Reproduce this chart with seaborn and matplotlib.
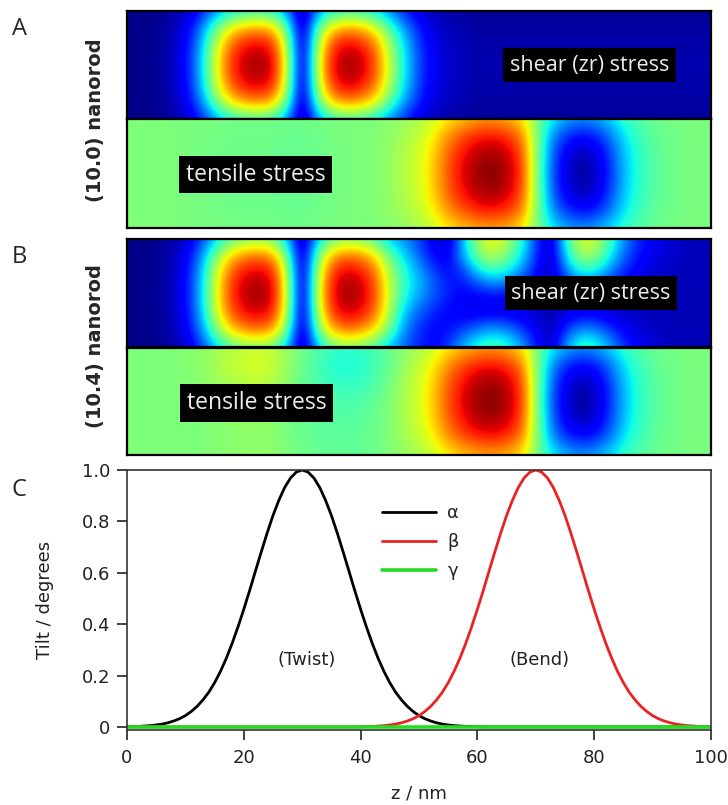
import numpy as np
import pandas as pd
import matplotlib
matplotlib.use("Agg")
import matplotlib.pyplot as plt
import seaborn as sns

# ---------------- data ----------------
# stress maps: columns at z = 0, 2.5, ..., 100 nm ; rows from top edge to bottom edge
# (jet colour scale, 0 = dark blue ... 1 = dark red)

# shear (zr) stress from twisting: centre-row profile and vertical envelope
shear_mid = [0.01, 0.01, 0.02, 0.05, 0.12, 0.30, 0.60, 0.84, 0.95, 0.98, 0.93,
             0.58, 0.00, 0.58, 0.90, 0.98, 0.95, 0.83, 0.58, 0.36, 0.19, 0.10,
             0.07, 0.05, 0.04, 0.04, 0.04, 0.04, 0.04, 0.04, 0.04, 0.04, 0.04,
             0.04, 0.04, 0.04, 0.04, 0.04, 0.04, 0.04, 0.04]
shear_a_rows = [0.40, 0.78, 0.95, 1.00, 0.96, 0.80, 0.42]
shear_b_rows = [0.50, 0.82, 0.96, 1.00, 0.96, 0.82, 0.50]
shear_bg = 0.01

# panel B shear map, right part (z = 47.5 ... 100 nm, 22 columns), read directly
shear_b_right = [
    [0.26, 0.18, 0.10, 0.05, 0.32, 0.55, 0.66, 0.57, 0.40, 0.18, 0.04,
     0.40, 0.62, 0.60, 0.44, 0.27, 0.16, 0.11, 0.08, 0.06, 0.05, 0.05],
    [0.34, 0.22, 0.12, 0.10, 0.30, 0.50, 0.58, 0.50, 0.36, 0.16, 0.04,
     0.34, 0.55, 0.53, 0.38, 0.22, 0.14, 0.09, 0.07, 0.06, 0.05, 0.05],
    [0.40, 0.30, 0.20, 0.13, 0.16, 0.30, 0.38, 0.34, 0.24, 0.12, 0.04,
     0.22, 0.35, 0.34, 0.24, 0.15, 0.10, 0.07, 0.06, 0.05, 0.05, 0.05],
    [0.40, 0.30, 0.22, 0.16, 0.12, 0.13, 0.15, 0.14, 0.11, 0.08, 0.04,
     0.11, 0.15, 0.14, 0.11, 0.08, 0.06, 0.05, 0.05, 0.05, 0.05, 0.05],
    [0.32, 0.22, 0.16, 0.12, 0.09, 0.07, 0.07, 0.07, 0.07, 0.06, 0.04,
     0.06, 0.07, 0.07, 0.06, 0.05, 0.05, 0.05, 0.05, 0.05, 0.05, 0.05],
    [0.26, 0.17, 0.12, 0.13, 0.18, 0.24, 0.28, 0.25, 0.18, 0.10, 0.04,
     0.17, 0.26, 0.25, 0.18, 0.11, 0.08, 0.06, 0.05, 0.05, 0.05, 0.05],
    [0.22, 0.15, 0.12, 0.18, 0.32, 0.42, 0.46, 0.42, 0.30, 0.15, 0.04,
     0.28, 0.44, 0.42, 0.30, 0.18, 0.11, 0.08, 0.06, 0.05, 0.05, 0.05],
]

# tensile stress (both rods): centre-row profile and vertical envelope
tensile_mid = [0.50, 0.50, 0.50, 0.50, 0.50, 0.49, 0.49, 0.48, 0.48, 0.48, 0.48,
               0.47, 0.47, 0.48, 0.49, 0.50, 0.50, 0.51, 0.53, 0.57, 0.61, 0.70,
               0.83, 0.92, 0.98, 1.00, 0.96, 0.86, 0.52, 0.22, 0.08, 0.02, 0.05,
               0.16, 0.31, 0.40, 0.45, 0.48, 0.49, 0.50, 0.50]
tensile_rows = [0.46, 0.80, 0.95, 1.00, 0.95, 0.80, 0.46]
tensile_bg = 0.50

# panel B, extra tensile features of the (10.4) rod (yellow near 22 nm, cyan near 38 nm)
tensile_b_extra = [0.0, 0.0, 0.0, 0.0, 0.01, 0.03, 0.06, 0.10, 0.12, 0.13, 0.11,
                   0.06, 0.0, -0.05, -0.10, -0.12, -0.11, -0.08, -0.05, -0.02, 0.0,
                   0.0, 0.0, 0.0, 0.0, 0.0, 0.0, 0.0, 0.0, 0.0, 0.0, 0.0, 0.0,
                   0.0, 0.0, 0.0, 0.0, 0.0, 0.0, 0.0, 0.0]
tensile_b_extra_rows = [0.75, 1.00, 0.75, 0.50, 0.38, 0.30, 0.28]

# panel C: tilt angles along the rod (every 1 nm)
z_nm = list(range(0, 101))
alpha = [0.001, 0.0014, 0.002, 0.0034, 0.005, 0.0076, 0.011, 0.016, 0.023, 0.032,
         0.044, 0.060, 0.080, 0.105, 0.135, 0.172, 0.216, 0.267, 0.325, 0.389,
         0.458, 0.531, 0.607, 0.682, 0.755, 0.823, 0.882, 0.932, 0.969, 0.992,
         1.000, 0.992, 0.969, 0.932, 0.882, 0.823, 0.755, 0.682, 0.607, 0.531,
         0.458, 0.389, 0.325, 0.267, 0.216, 0.172, 0.135, 0.105, 0.080, 0.060,
         0.044, 0.032, 0.023, 0.016, 0.011, 0.0076, 0.005, 0.0034, 0.002, 0.0014,
         0.001] + [0.0] * 40
beta = [0.0] * 40 + [
         0.001, 0.0014, 0.002, 0.0034, 0.005, 0.0076, 0.011, 0.016, 0.023, 0.032,
         0.044, 0.060, 0.080, 0.105, 0.135, 0.172, 0.216, 0.267, 0.325, 0.389,
         0.458, 0.531, 0.607, 0.682, 0.755, 0.823, 0.882, 0.932, 0.969, 0.992,
         1.000, 0.992, 0.969, 0.932, 0.882, 0.823, 0.755, 0.682, 0.607, 0.531,
         0.458, 0.389, 0.325, 0.267, 0.216, 0.172, 0.135, 0.105, 0.080, 0.060,
         0.044, 0.032, 0.023, 0.016, 0.011, 0.0076, 0.005, 0.0034, 0.002, 0.0014,
         0.001]
gamma = [0.0] * len(z_nm)
series_names = ["α", "β", "γ"]
series_colors = ["black", "#ec2222", "#22dd22"]

x_ticks = [0, 20, 40, 60, 80, 100]
y_ticks = [0, 0.2, 0.4, 0.6, 0.8, 1.0]
y_tick_labels = ["0", "0.2", "0.4", "0.6", "0.8", "1.0"]

# ---------------- tables built from the arrays ----------------
shear_mid_arr = np.array(shear_mid)
shear_a = shear_bg + np.outer(shear_a_rows, shear_mid_arr - shear_bg)
shear_b_left = shear_bg + np.outer(shear_b_rows, shear_mid_arr - shear_bg)
shear_b = np.hstack([shear_b_left[:, :19], np.array(shear_b_right)])
tensile_a = tensile_bg + np.outer(tensile_rows, np.array(tensile_mid) - tensile_bg)
tensile_b = tensile_a + np.outer(tensile_b_extra_rows, tensile_b_extra)

df = pd.DataFrame({
    "z": z_nm * 3,
    "tilt": alpha + beta + gamma,
    "angle": [series_names[0]] * len(z_nm) + [series_names[1]] * len(z_nm)
             + [series_names[2]] * len(z_nm),
})

# ---------------- drawing ----------------
sns.set_theme(style="ticks")
plt.rcParams["font.family"] = ["DejaVu Sans"]

W, H = 728, 805
fig = plt.figure(figsize=(W / 100, H / 100), dpi=100)


def px_axes(left, top, right, bottom):
    return fig.add_axes([left / W, 1 - bottom / H, (right - left) / W, (bottom - top) / H])


n_rows = 7
dz = 100 / 40
extent = (-dz / 2, 100 + dz / 2, -0.5 / (n_rows - 1), 1 + 0.5 / (n_rows - 1))
label_font = ["Open Sans", "DejaVu Sans"]


def stress_map(ax, data, label, lx, ly, size):
    ax.imshow(data, cmap="jet", vmin=0, vmax=1, aspect="auto", origin="upper",
              interpolation="bicubic", interpolation_stage="data", extent=extent)
    ax.set_xlim(0, 100)
    ax.set_ylim(0, 1)
    ax.set_xticks([])
    ax.set_yticks([])
    for s in ax.spines.values():
        s.set_color("black")
        s.set_linewidth(1.6)
    ax.text(lx, ly, label, transform=ax.transAxes, ha="center", va="center",
            color="#ededed", fontsize=size, family=label_font,
            bbox=dict(boxstyle="square,pad=0.3", fc="black", ec="none"))


ax_as = px_axes(127, 11, 711, 119)
ax_at = px_axes(127, 119, 711, 228)
ax_bs = px_axes(127, 239, 711, 347.5)
ax_bt = px_axes(127, 347.5, 711, 454.5)

stress_map(ax_as, shear_a, "shear (zr) stress", 0.792, 0.50, 15.5)
stress_map(ax_at, tensile_a, "tensile stress", 0.220, 0.49, 16.5)
stress_map(ax_bs, shear_b, "shear (zr) stress", 0.794, 0.50, 15.5)
stress_map(ax_bt, tensile_b, "tensile stress", 0.222, 0.48, 16.5)

fig.text(96 / W, 1 - 120 / H, "(10.0) nanorod", rotation=90, ha="center", va="center",
         fontsize=14, fontweight="bold")
fig.text(96 / W, 1 - 346 / H, "(10.4) nanorod", rotation=90, ha="center", va="center",
         fontsize=14, fontweight="bold")

letter_font = ["Liberation Sans Narrow", "Open Sans", "DejaVu Sans"]
fig.text(19 / W, 1 - 29 / H, "A", ha="center", va="center", fontsize=17, family=letter_font)
fig.text(19 / W, 1 - 257 / H, "B", ha="center", va="center", fontsize=17, family=letter_font)
fig.text(19 / W, 1 - 490 / H, "C", ha="center", va="center", fontsize=17, family=letter_font)

# panel C
axc = px_axes(127, 470, 711, 730)
sns.lineplot(data=df, x="z", y="tilt", hue="angle", hue_order=series_names,
             palette=series_colors, linewidth=2.0, ax=axc, legend=False)
axc.lines[2].set_linewidth(2.6)
axc.set_xlim(0, 100)
axc.set_ylim(-0.012, 1.0)
axc.set_xticks(x_ticks)
axc.set_xticklabels([str(t) for t in x_ticks])
axc.set_yticks(y_ticks)
axc.set_yticklabels(y_tick_labels)
axc.tick_params(direction="out", length=7, width=1.2, labelsize=13, colors="#222222", pad=5)
axc.tick_params(axis="x", pad=7)
for s in axc.spines.values():
    s.set_color("#333333")
    s.set_linewidth(1.2)
axc.set_xlabel("z / nm", fontsize=13, color="#222222")
axc.set_ylabel("Tilt / degrees", fontsize=13, color="#222222")
axc.xaxis.set_label_coords(0.5, -0.21)
axc.yaxis.set_label_coords(-0.125, 0.5)

axc.legend(axc.lines[:3], series_names, loc="center", bbox_to_anchor=(0.503, 0.722),
           frameon=False, handlelength=3.0, fontsize=13, labelspacing=0.62, handletextpad=0.6)

axc.text(30.7, 0.26, "(Twist)", ha="center", va="center", fontsize=13, color="#222222")
axc.text(70.7, 0.26, "(Bend)", ha="center", va="center", fontsize=13, color="#222222")

fig.savefig("out.png", dpi=100)
